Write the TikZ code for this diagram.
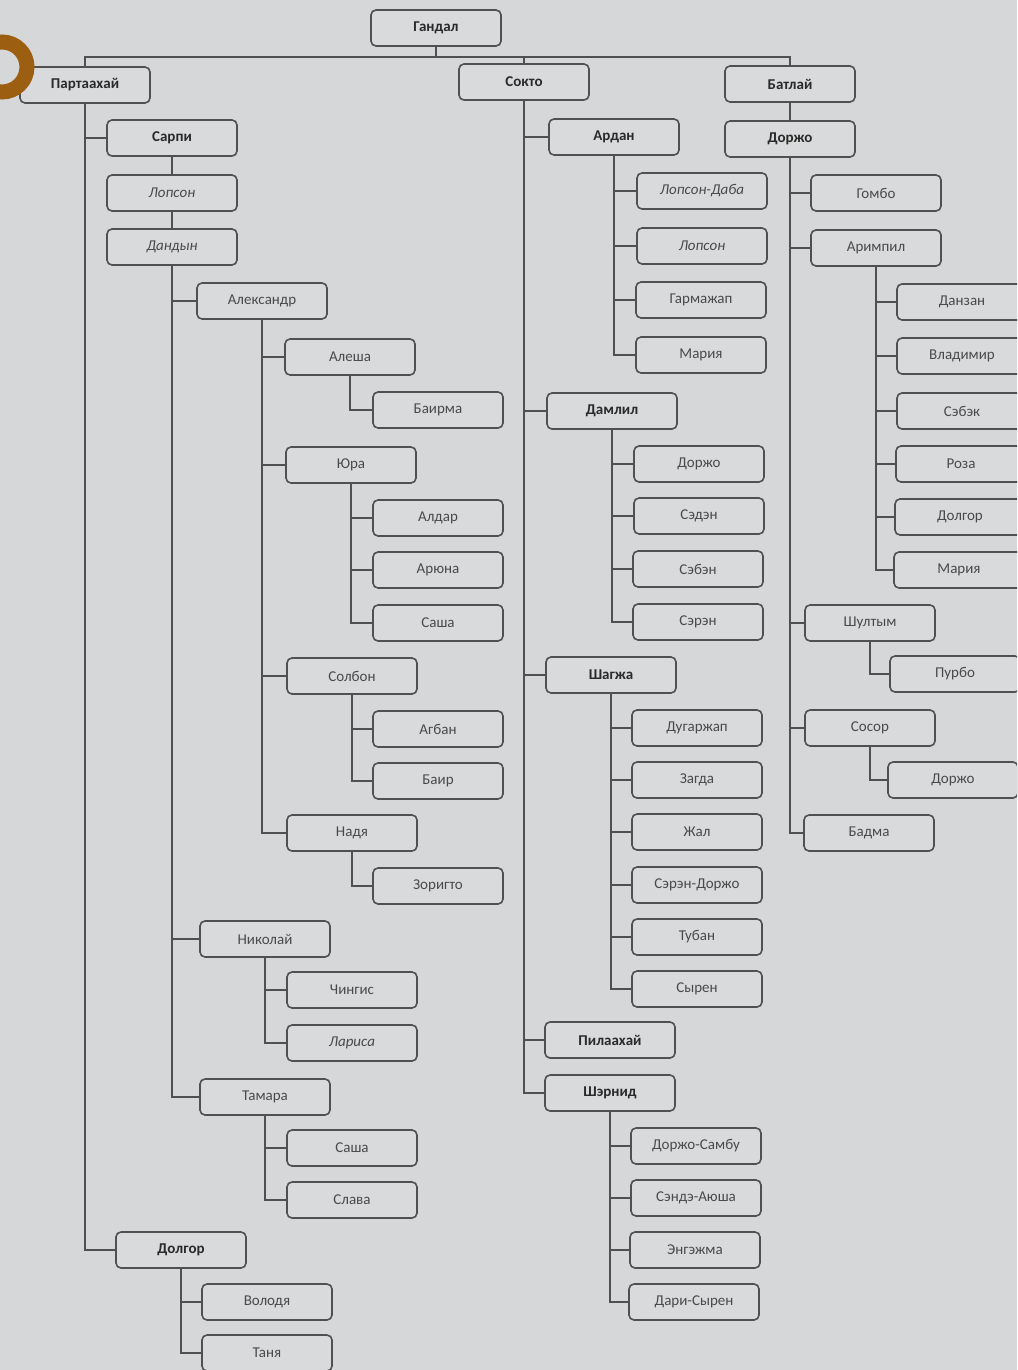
\documentclass[tikz,border=0pt]{standalone}
\usepackage{fontspec}
\setmainfont{Carlito}
\definecolor{bgc}{HTML}{D5D7D9}
\definecolor{boxc}{HTML}{D8DADB}
\definecolor{linec}{HTML}{505050}
\definecolor{txtc}{HTML}{4A4A4A}
\definecolor{txtb}{HTML}{2A2A2A}
\definecolor{ringc}{HTML}{9C5E10}
\begin{document}
\begin{tikzpicture}[x=1pt,y=-1pt,
 box/.style={draw=linec, line width=1.6pt, rounded corners=5pt, fill=boxc, minimum width=130pt, minimum height=36pt, inner sep=0pt, text=txtc, font=\fontsize{15}{17}\selectfont},
 bbox/.style={box, text=txtb, font=\bfseries\fontsize{15}{17}\selectfont},
 ibox/.style={box, font=\itshape\fontsize{15}{17}\selectfont},
 link/.style={draw=linec, line width=1.6pt}]
\fill[bgc] (0,0) rectangle (1017,1370);
\useasboundingbox (0,0) rectangle (1017,1370);
\clip (0,0) rectangle (1017,1370);
% top
\node[bbox] (gandal) at (436,28) {Гандал};
\node[bbox] (partaa) at (85,85) {Партаахай};
\node[bbox] (sokto) at (524,82) {Сокто};
\node[bbox] (batlai) at (790,84) {Батлай};
% Partaahai branch
\node[bbox] (sarpi) at (172,138) {Сарпи};
\node[ibox] (lopsonA) at (172,193) {Лопсон};
\node[ibox] (dandyn) at (172,247) {Дандын};
\node[box] (alex) at (262,301) {Александр};
\node[box] (alesha) at (350,357) {Алеша};
\node[box] (bairma) at (438,410) {Баирма};
\node[box] (yura) at (351,465) {Юра};
\node[box] (aldar) at (438,518) {Алдар};
\node[box] (aryuna) at (438,570) {Арюна};
\node[box] (sashaA) at (438,623) {Саша};
\node[box] (solbon) at (352,676) {Солбон};
\node[box] (agban) at (438,729) {Агбан};
\node[box] (bair) at (438,781) {Баир};
\node[box] (nadya) at (352,833) {Надя};
\node[box] (zorigto) at (438,886) {Зоригто};
\node[box] (nikolai) at (265,939) {Николай};
\node[box] (chingis) at (352,990) {Чингис};
\node[ibox] (larisa) at (352,1043) {Лариса};
\node[box] (tamara) at (265,1097) {Тамара};
\node[box] (sashaB) at (352,1148) {Саша};
\node[box] (slava) at (352,1200) {Слава};
\node[bbox] (dolgorA) at (181,1250) {Долгор};
\node[box] (volodya) at (267,1302) {Володя};
\node[box] (tanya) at (267,1353) {Таня};
% Sokto branch
\node[bbox] (ardan) at (614,137) {Ардан};
\node[ibox] (lopdaba) at (702,191) {Лопсон-Даба};
\node[ibox] (lopsonB) at (702,246) {Лопсон};
\node[box] (garma) at (701,300) {Гармажап};
\node[box] (mariyaA) at (701,355) {Мария};
\node[bbox] (damlil) at (612,411) {Дамлил};
\node[box] (dorzhoA) at (699,464) {Доржо};
\node[box] (seden) at (699,516) {Сэдэн};
\node[box] (seben) at (698,569) {Сэбэн};
\node[box] (seren) at (698,622) {Сэрэн};
\node[bbox] (shagzha) at (611,675) {Шагжа};
\node[box] (dugar) at (697,728) {Дугаржап};
\node[box] (zagda) at (697,780) {Загда};
\node[box] (zhal) at (697,832) {Жал};
\node[box] (serdor) at (697,885) {Сэрэн-Доржо};
\node[box] (tuban) at (697,937) {Тубан};
\node[box] (syren) at (697,989) {Сырен};
\node[bbox] (pilaa) at (610,1040) {Пилаахай};
\node[bbox] (shernid) at (610,1093) {Шэрнид};
\node[box] (dorsam) at (696,1146) {Доржо-Самбу};
\node[box] (sende) at (696,1198) {Сэндэ-Аюша};
\node[box] (engez) at (695,1250) {Энгэжма};
\node[box] (darisyr) at (694,1302) {Дари-Сырен};
% Batlai branch
\node[bbox] (dorzhoB) at (790,139) {Доржо};
\node[box] (gombo) at (876,193) {Гомбо};
\node[box] (arimpil) at (876,248) {Аримпил};
\node[box] (danzan) at (962,302) {Данзан};
\node[box] (vladimir) at (962,356) {Владимир};
\node[box] (sebek) at (962,411) {Сэбэк};
\node[box] (roza) at (961,464) {Роза};
\node[box] (dolgorB) at (960,517) {Долгор};
\node[box] (mariyaB) at (959,570) {Мария};
\node[box] (shultym) at (870,623) {Шултым};
\node[box] (purbo) at (955,674) {Пурбо};
\node[box] (sosor) at (870,728) {Сосор};
\node[box] (dorzhoC) at (953,780) {Доржо};
\node[box] (badma) at (869,833) {Бадма};
% connectors
\coordinate (bar) at (436,57);
\draw[link] (gandal.south) -- (bar);
\draw[link] (partaa.north) |- (bar) -| (batlai.north);
\draw[link] (sokto.north) -- (sokto.north |- bar);
\foreach \c in {sarpi,dolgorA} \draw[link] (partaa.south) |- (\c.west);
\draw[link] (sarpi.south) -- (lopsonA.north);
\draw[link] (lopsonA.south) -- (dandyn.north);
\foreach \c in {alex,nikolai,tamara} \draw[link] (dandyn.south) |- (\c.west);
\foreach \c in {alesha,yura,solbon,nadya} \draw[link] (alex.south) |- (\c.west);
\draw[link] (alesha.south) |- (bairma.west);
\foreach \c in {aldar,aryuna,sashaA} \draw[link] (yura.south) |- (\c.west);
\foreach \c in {agban,bair} \draw[link] (solbon.south) |- (\c.west);
\draw[link] (nadya.south) |- (zorigto.west);
\foreach \c in {chingis,larisa} \draw[link] (nikolai.south) |- (\c.west);
\foreach \c in {sashaB,slava} \draw[link] (tamara.south) |- (\c.west);
\foreach \c in {volodya,tanya} \draw[link] (dolgorA.south) |- (\c.west);
\foreach \c in {ardan,damlil,shagzha,pilaa,shernid} \draw[link] (sokto.south) |- (\c.west);
\foreach \c in {lopdaba,lopsonB,garma,mariyaA} \draw[link] (ardan.south) |- (\c.west);
\foreach \c in {dorzhoA,seden,seben,seren} \draw[link] (damlil.south) |- (\c.west);
\foreach \c in {dugar,zagda,zhal,serdor,tuban,syren} \draw[link] (shagzha.south) |- (\c.west);
\foreach \c in {dorsam,sende,engez,darisyr} \draw[link] (shernid.south) |- (\c.west);
\draw[link] (batlai.south) -- (dorzhoB.north);
\foreach \c in {gombo,arimpil,shultym,sosor,badma} \draw[link] (dorzhoB.south) |- (\c.west);
\foreach \c in {danzan,vladimir,sebek,roza,dolgorB,mariyaB} \draw[link] (arimpil.south) |- (\c.west);
\draw[link] (shultym.south) |- (purbo.west);
\draw[link] (sosor.south) |- (dorzhoC.west);
% orange ring
\draw[ringc, line width=15pt] (2,67) circle[radius=25];
\end{tikzpicture}
\end{document}
